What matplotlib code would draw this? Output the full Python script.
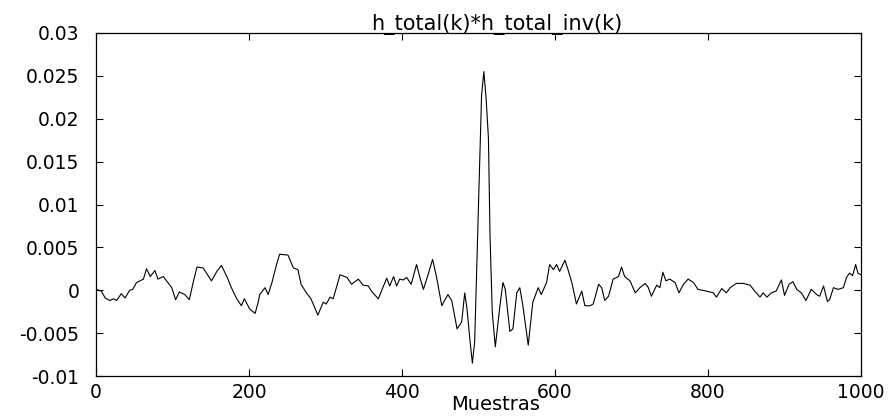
import numpy as np
import matplotlib.pyplot as plt

# samples and values
muestras = [0, 7, 12, 18, 23, 27, 33, 38, 44, 48, 53, 62, 66, 71, 77, 81, 88, 94, 99,
            104, 109, 116, 122, 127, 132, 140, 151, 158, 164, 171, 177, 184, 190, 194,
            201, 208, 212, 214, 221, 225, 230, 236, 240, 251, 258, 264, 268, 275, 281,
            290, 297, 301, 306, 310, 319, 328, 334, 343, 349, 356, 360, 369, 375, 380,
            384, 389, 393, 397, 402, 406, 412, 419, 424, 428, 434, 440, 445, 452, 460,
            465, 472, 478, 482, 485, 489, 492, 495, 500, 504, 507, 510, 513, 515, 518,
            522, 528, 532, 535, 541, 545, 550, 554, 558, 565, 571, 578, 582, 589, 593,
            598, 602, 606, 613, 617, 622, 628, 635, 639, 646, 650, 657, 661, 665, 670,
            676, 683, 687, 691, 698, 705, 711, 718, 722, 726, 733, 737, 741, 745, 750,
            757, 762, 768, 774, 781, 787, 798, 807, 811, 818, 824, 829, 837, 846, 855,
            861, 868, 872, 877, 883, 889, 896, 900, 906, 911, 916, 922, 928, 935, 942,
            946, 951, 956, 959, 964, 970, 977, 981, 985, 989, 993, 996, 1000]
valores = [0.0001, -0.0001, -0.0009, -0.0012, -0.0010, -0.0012, -0.0004, -0.0009, 0.0000,
           0.0001, 0.0009, 0.0013, 0.0025, 0.0016, 0.0023, 0.0013, 0.0016, 0.0009, 0.0003,
           -0.0011, -0.0002, -0.0005, -0.0011, 0.0009, 0.0027, 0.0026, 0.0011, 0.0022,
           0.0029, 0.0016, 0.0003, -0.0010, -0.0018, -0.0010, -0.0022, -0.0027, -0.0014,
           -0.0005, 0.0003, -0.0005, 0.0009, 0.0030, 0.0042, 0.0041, 0.0026, 0.0024,
           0.0007, -0.0003, -0.0010, -0.0029, -0.0014, -0.0016, -0.0008, -0.0010, 0.0018,
           0.0015, 0.0007, 0.0013, 0.0006, 0.0005, -0.0001, -0.0010, 0.0003, 0.0014,
           0.0005, 0.0016, 0.0005, 0.0013, 0.0012, 0.0015, 0.0007, 0.0030, 0.0013, 0.0001,
           0.0018, 0.0036, 0.0016, -0.0018, -0.0005, -0.0012, -0.0045, -0.0037, -0.0003,
           -0.0022, -0.0060, -0.0085, -0.0060, 0.0100, 0.0227, 0.0255, 0.0223, 0.0177,
           0.0066, -0.0026, -0.0066, -0.0018, 0.0009, 0.0001, -0.0048, -0.0045, -0.0003,
           0.0003, -0.0018, -0.0064, -0.0014, 0.0003, -0.0005, 0.0009, 0.0030, 0.0024,
           0.0030, 0.0022, 0.0035, 0.0024, 0.0009, -0.0016, -0.0001, -0.0018, -0.0018,
           -0.0016, 0.0007, 0.0003, -0.0012, -0.0007, 0.0013, 0.0016, 0.0027, 0.0016,
           0.0011, -0.0003, 0.0003, 0.0008, 0.0003, -0.0007, 0.0006, 0.0003, 0.0021,
           0.0011, 0.0013, 0.0009, -0.0003, 0.0007, 0.0013, 0.0009, 0.0001, -0.0001,
           -0.0003, -0.0008, 0.0002, -0.0003, 0.0003, 0.0008, 0.0008, 0.0006, -0.0001,
           -0.0008, -0.0003, -0.0008, -0.0003, -0.0001, 0.0012, -0.0006, 0.0007, 0.0010,
           0.0001, -0.0003, -0.0012, 0.0001, -0.0005, -0.0007, 0.0005, -0.0013, -0.0011,
           0.0003, 0.0001, 0.0003, 0.0015, 0.0020, 0.0017, 0.0030, 0.0020, 0.0018]

xticks = [0, 200, 400, 600, 800, 1000]
yticks = [-0.01, -0.005, 0, 0.005, 0.01, 0.015, 0.02, 0.025, 0.03]
ytick_labels = ['-0.01', '-0.005', '0', '0.005', '0.01', '0.015', '0.02', '0.025', '0.03']

plt.rcParams['font.family'] = ['DejaVu Sans']

fig = plt.figure(figsize=(8.93, 4.18), dpi=100)
# axes box: x 96..861 px, y 33..376 px
ax = fig.add_axes([96 / 893, 42 / 418, 765 / 893, 343 / 418])

ax.plot(muestras, valores, color='black', linewidth=0.8)

ax.set_xlim(0, 1000)
ax.set_ylim(-0.01, 0.03)
ax.set_xticks(xticks)
ax.set_xticklabels([str(t) for t in xticks])
ax.set_yticks(yticks)
ax.set_yticklabels(ytick_labels)
ax.tick_params(direction='in', top=True, right=True, length=5, width=0.8,
               labelsize=13.5)
ax.tick_params(axis='y', pad=12)
ax.tick_params(axis='x', pad=5)
for s in ax.spines.values():
    s.set_linewidth(0.9)

ax.set_title('h_total(k)*h_total_inv(k)', fontsize=15, pad=2, x=0.524)
ax.set_xlabel('Muestras', fontsize=14, labelpad=-5, x=0.522)

fig.savefig('out.png', dpi=100)
